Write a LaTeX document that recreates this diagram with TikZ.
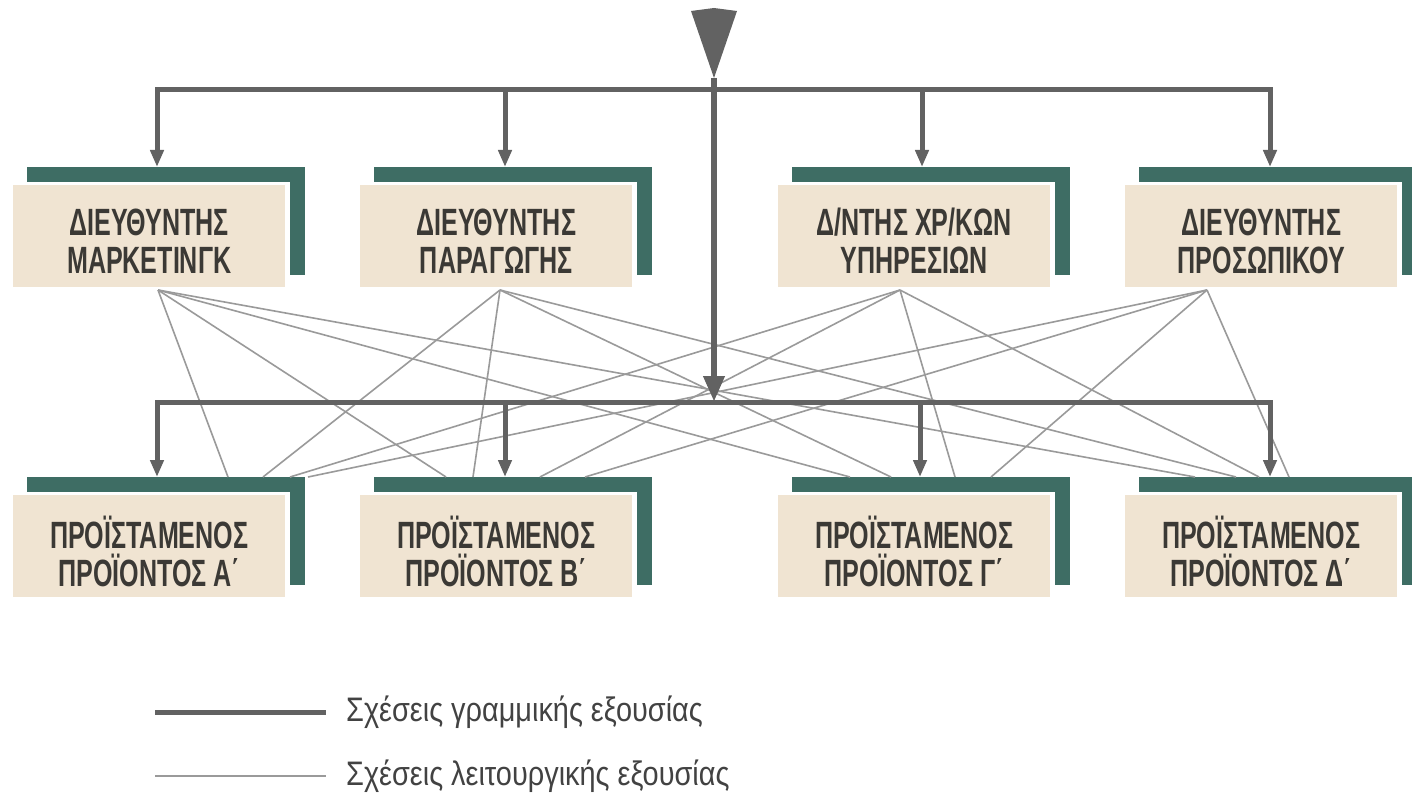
\documentclass[tikz,border=0pt]{standalone}
\usepackage{fontspec}
\setmainfont{Liberation Sans}
\newfontfamily\boxfont[FakeStretch=0.66]{Liberation Sans}
\newfontfamily\legfont[FakeStretch=0.85]{Liberation Sans}
\usetikzlibrary{arrows.meta}

\definecolor{tealbar}{HTML}{3E6D64}
\definecolor{beige}{HTML}{F0E4D2}
\definecolor{linegray}{HTML}{626262}
\definecolor{thingray}{HTML}{9A9A9A}
\definecolor{textgray}{HTML}{3B3935}
\definecolor{leggray}{HTML}{424242}

\tikzset{
  role/.style={fill=beige, minimum width=272pt, minimum height=102pt,
    anchor=north west, inner sep=0pt},
  roletext/.style={inner sep=0pt, align=center, text=textgray,
    font=\boxfont\bfseries\fontsize{38}{38}\selectfont},
  lineauth/.style={draw=linegray, line width=5pt},
  branch/.style={draw=linegray, line width=5pt,
    -{Triangle[length=17pt,width=13pt]}},
  mainstem/.style={draw=linegray, line width=6.5pt,
    -{Triangle[length=26pt,width=20pt]}},
  funcauth/.style={draw=thingray, line width=1.6pt},
  legtext/.style={anchor=west, inner sep=0pt, text=leggray,
    font=\legfont\fontsize{34}{36}\selectfont},
}

% box with its teal corner frame: name, left, top, text
\newcommand\orgbox[4]{%
  \fill[tealbar] (#2+14,#3-18) rectangle (#2+292,#3-3);
  \fill[tealbar] (#2+277,#3-18) rectangle (#2+292,#3+90);
  \node[role] (#1) at (#2,#3) {};
  \node[roletext] (#1-t) at ([yshift=-5pt]#1.center) {#4};
}

\begin{document}
\begin{tikzpicture}[x=1pt,y=-1pt]
\useasboundingbox (0,0) rectangle (1412,799);
\fill[white] (0,0) rectangle (1412,799);

% managers
\orgbox{mkt}{13}{185}{ΔΙΕΥΘΥΝΤΗΣ\\ΜΑΡΚΕΤΙΝΓΚ}
\orgbox{prod}{360}{185}{ΔΙΕΥΘΥΝΤΗΣ\\ΠΑΡΑΓΩΓΗΣ}
\orgbox{fin}{778}{185}{Δ/ΝΤΗΣ ΧΡ/ΚΩΝ\\ΥΠΗΡΕΣΙΩΝ}
\orgbox{hr}{1125}{185}{ΔΙΕΥΘΥΝΤΗΣ\\ΠΡΟΣΩΠΙΚΟΥ}

% product heads
\orgbox{pa}{13}{495}{ΠΡΟΪΣΤΑΜΕΝΟΣ\\ΠΡΟΪΟΝΤΟΣ Α΄}
\orgbox{pb}{360}{495}{ΠΡΟΪΣΤΑΜΕΝΟΣ\\ΠΡΟΪΟΝΤΟΣ Β΄}
\orgbox{pc}{778}{495}{ΠΡΟΪΣΤΑΜΕΝΟΣ\\ΠΡΟΪΟΝΤΟΣ Γ΄}
\orgbox{pd}{1125}{495}{ΠΡΟΪΣΤΑΜΕΝΟΣ\\ΠΡΟΪΟΝΤΟΣ Δ΄}

% start points of the functional lines
\coordinate (mktF) at (158,290);
\coordinate (prodF) at (500,290);
\coordinate (finF) at (900,290);
\coordinate (hrF) at (1207,290);

% end points on the product heads
\coordinate (paM) at (228,477); \coordinate (paP) at (263,477);
\coordinate (paF) at (290,477); \coordinate (paH) at (308,477);
\coordinate (pbM) at (446,477); \coordinate (pbP) at (473,477);
\coordinate (pbF) at (540,477); \coordinate (pbH) at (585,477);
\coordinate (pcM) at (850,477); \coordinate (pcP) at (891,477);
\coordinate (pcF) at (955,477); \coordinate (pcH) at (991,477);
\coordinate (pdM) at (1195,477); \coordinate (pdP) at (1236,477);
\coordinate (pdF) at (1259,477); \coordinate (pdH) at (1289,477);

% functional authority
\foreach \s/\t in {mkt/M,prod/P,fin/F,hr/H}{
  \foreach \p in {pa,pb,pc,pd}{
    \draw[funcauth] (\s F) -- (\p\t);
  }
}

% line authority
\coordinate (src) at (714,78);
\fill[linegray] (691,11) -- (714,8) -- (737,11) -- (src) -- cycle;

\coordinate (tb1) at (157,90);  \coordinate (tb2) at (505,90);
\coordinate (tb3) at (922,90);  \coordinate (tb4) at (1270,90);
\coordinate (bb1) at (157,402); \coordinate (bb2) at (505,402);
\coordinate (bb3) at (920,402); \coordinate (bb4) at (1270,402);
\coordinate (stem) at (714,402);

\coordinate (mktIn) at (157,167);  \coordinate (prodIn) at (505,167);
\coordinate (finIn) at (922,167);  \coordinate (hrIn) at (1270,167);
\coordinate (paIn) at (157,477);   \coordinate (pbIn) at (505,477);
\coordinate (pcIn) at (920,477);   \coordinate (pdIn) at (1270,477);

\draw[lineauth, line cap=rect] (tb1) -- (tb4);
\draw[lineauth, line cap=rect] (bb1) -- (bb4);
\draw[branch] (tb1) -- (mktIn);
\draw[branch] (tb2) -- (prodIn);
\draw[branch] (tb3) -- (finIn);
\draw[branch] (tb4) -- (hrIn);
\draw[branch] (bb1) -- (paIn);
\draw[branch] (bb2) -- (pbIn);
\draw[branch] (bb3) -- (pcIn);
\draw[branch] (bb4) -- (pdIn);
\draw[mainstem] (src) -- (stem);

% legend
\coordinate (la1) at (155,712); \coordinate (la2) at (326,712);
\coordinate (lf1) at (155,776); \coordinate (lf2) at (326,776);
\draw[lineauth] (la1) -- (la2);
\draw[funcauth, line width=2.2pt] (lf1) -- (lf2);
\node[legtext] (leglin) at (346,712) {Σχέσεις γραμμικής εξουσίας};
\node[legtext] (legfun) at (346,776) {Σχέσεις λειτουργικής εξουσίας};
\end{tikzpicture}
\end{document}
